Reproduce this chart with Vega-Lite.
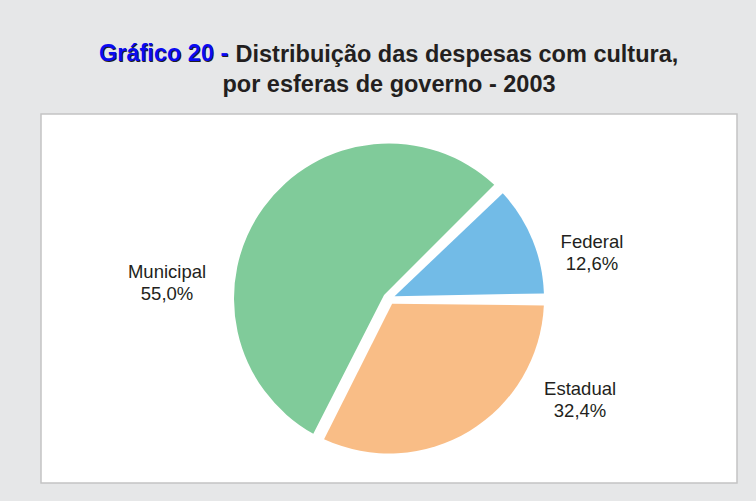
{
  "$schema": "https://vega.github.io/schema/vega-lite/v6.json",
  "background": "#e6e7e8",
  "padding": {"left": 40, "right": 20, "top": 41, "bottom": 18},
  "title": {
    "text": "Gráfico 20 -",
    "color": "#0b0bf2",
    "font": "Liberation Sans",
    "fontSize": 23.5,
    "fontWeight": "bold",
    "anchor": "start",
    "offset": 0,
    "dx": 58.8,
    "dy": 23.5,
    "zindex": 2
  },
  "vconcat": [
    {
      "title": {
        "text": ["Gráfico 20 - Distribuição das despesas com cultura,", "por esferas de governo - 2003"],
        "color": "#231f20",
        "font": "Liberation Sans",
        "fontSize": 23.5,
        "fontWeight": "bold",
        "lineHeight": 30,
        "anchor": "middle",
        "offset": 18
      },
      "width": 696,
      "height": 369,
      "view": {"fill": "#ffffff", "stroke": "#c4c4c4", "strokeWidth": 1.5},
      "data": {
        "values": [
          {"esfera": "Federal", "valor": 12.6, "ordem": 1, "rotulo": "Federal\n12,6%"},
          {"esfera": "Estadual", "valor": 32.4, "ordem": 2, "rotulo": "Estadual\n32,4%"},
          {"esfera": "Municipal", "valor": 55.0, "ordem": 3, "rotulo": "Municipal\n55,0%"}
        ]
      },
      "encoding": {
        "theta": {"field": "valor", "type": "quantitative", "stack": true, "scale": {"domain": [0, 100], "range": [0.785398, 7.068583]}},
        "order": {"field": "ordem", "type": "quantitative"}
      },
      "layer": [
        {
          "mark": {"type": "arc", "radius": 155, "innerRadius": 6, "padAngle": 0.078},
          "encoding": {
            "color": {
              "field": "esfera",
              "type": "nominal",
              "scale": {"domain": ["Federal", "Estadual", "Municipal"], "range": ["#72bbe7", "#f9bd86", "#80cb9a"]},
              "legend": null
            }
          }
        },
        {
          "mark": {"type": "text", "radius": 210.7, "thetaOffset": 0.118, "font": "Liberation Sans", "fontSize": 18.5, "color": "#231f20", "lineBreak": "\n", "lineHeight": 22, "align": "center", "baseline": "middle"},
          "encoding": {
            "text": {"condition": {"test": "datum.esfera === 'Federal'", "field": "rotulo"}, "value": ""}
          }
        },
        {
          "mark": {"type": "text", "radius": 211.4, "thetaOffset": -0.582, "font": "Liberation Sans", "fontSize": 18.5, "color": "#231f20", "lineBreak": "\n", "lineHeight": 22, "align": "center", "baseline": "middle"},
          "encoding": {
            "text": {"condition": {"test": "datum.esfera === 'Estadual'", "field": "rotulo"}, "value": ""}
          }
        },
        {
          "mark": {"type": "text", "radius": 223.5, "thetaOffset": -0.511, "font": "Liberation Sans", "fontSize": 18.5, "color": "#231f20", "lineBreak": "\n", "lineHeight": 22, "align": "center", "baseline": "middle"},
          "encoding": {
            "text": {"condition": {"test": "datum.esfera === 'Municipal'", "field": "rotulo"}, "value": ""}
          }
        }
      ]
    }
  ]
}
